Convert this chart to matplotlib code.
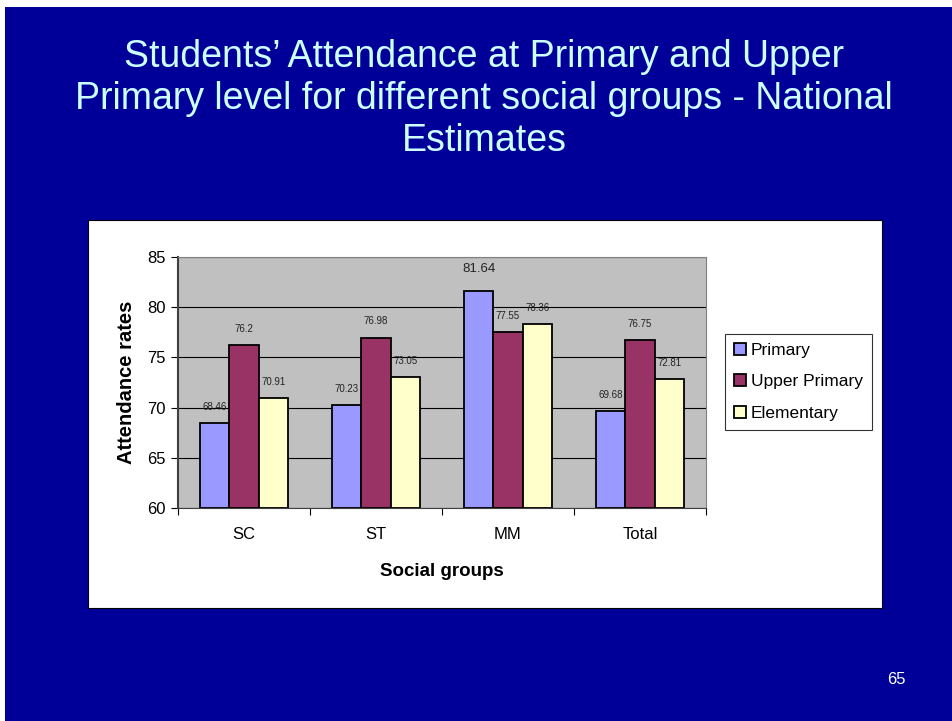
import numpy as np
import matplotlib
matplotlib.use("Agg")
import matplotlib.pyplot as plt
from matplotlib.patches import Rectangle

plt.rcParams["font.family"] = ["Liberation Sans", "DejaVu Sans"]

# data
groups = ["SC", "ST", "MM", "Total"]
primary = [68.46, 70.23, 81.64, 69.68]
upper_primary = [76.2, 76.98, 77.55, 76.75]
elementary = [70.91, 73.05, 78.36, 72.81]
series_names = ["Primary", "Upper Primary", "Elementary"]
colors = ["#9999FF", "#993366", "#FFFFCC"]

W, H = 953, 721
fig = plt.figure(figsize=(W / 100, H / 100), dpi=100)
fig.patch.set_facecolor("white")

# slide background + white chart box
fig.patches.append(Rectangle((5 / W, 0), 948 / W, 714 / H, transform=fig.transFigure,
                             facecolor="#000099", edgecolor="none", zorder=-3))
fig.patches.append(Rectangle((88 / W, 1 - 608 / H), 794 / W, 388 / H, transform=fig.transFigure,
                             facecolor="white", edgecolor="black", lw=0.8, zorder=-2))

fig.text(484 / W, 1 - 99 / H,
         "Students\u2019 Attendance at Primary and Upper\n"
         "Primary level for different social groups - National\nEstimates",
         ha="center", va="center", fontsize=27, color="#CCFFFF", linespacing=1.22)
fig.text(896 / W, 1 - 680 / H, "65", ha="center", va="center", fontsize=12, color="white")

ax = fig.add_axes([178 / W, 1 - 508 / H, 528 / W, 251 / H])
ax.set_facecolor("#C0C0C0")

x = np.arange(len(groups))
bw = 2 / 9
all_series = [primary, upper_primary, elementary]
for i, (vals, name, col) in enumerate(zip(all_series, series_names, colors)):
    ax.bar(x + (i - 1) * bw, np.array(vals) - 60, width=bw, bottom=60, color=col,
           edgecolor="black", linewidth=1.3, label=name, zorder=3)
    for xi, v in zip(x, vals):
        fs = 9.5 if v == 81.64 else 7
        off = 11 if v == 81.64 else 8
        ax.annotate(f"{v:g}", (xi + (i - 1) * bw, v), xytext=(0, off), textcoords="offset points",
                    ha="center", va="bottom", fontsize=fs, color="#222222")

ax.set_ylim(60, 85)
ax.set_xlim(-0.5, len(groups) - 0.5)
ax.set_yticks([60, 65, 70, 75, 80, 85])
ax.yaxis.grid(True, color="black", linewidth=0.8, zorder=1)
ax.set_axisbelow(True)
ax.set_xticks(np.arange(len(groups) + 1) - 0.5, minor=False)
ax.set_xticklabels([])
ax.set_xticks(x, minor=True)
ax.set_xticklabels(groups, minor=True, fontsize=12)
ax.tick_params(axis="x", which="minor", length=0, pad=14)
ax.tick_params(axis="x", which="major", length=5, direction="out")
ax.tick_params(axis="y", length=5, direction="out", labelsize=12, pad=4)

for s in ["top", "right"]:
    ax.spines[s].set_color("#808080")
ax.spines["left"].set_color("#404040")
ax.spines["left"].set_linewidth(1.5)
ax.spines["bottom"].set_color("#404040")

ax.set_ylabel("Attendance rates", fontsize=14.5, fontweight="bold", labelpad=8)
ax.set_xlabel("Social groups", fontsize=13.5, fontweight="bold", labelpad=15)

leg = ax.legend(loc="upper left", bbox_to_anchor=(725 / W, 1 - 334 / H),
                bbox_transform=fig.transFigure, borderaxespad=0, fontsize=12.5,
                frameon=True, fancybox=False, edgecolor="black", handlelength=0.7,
                handleheight=0.7, handletextpad=0.3, labelspacing=0.95, borderpad=0.5)
leg.get_frame().set_linewidth(0.8)

fig.savefig("out.png", dpi=100, facecolor=fig.get_facecolor())
